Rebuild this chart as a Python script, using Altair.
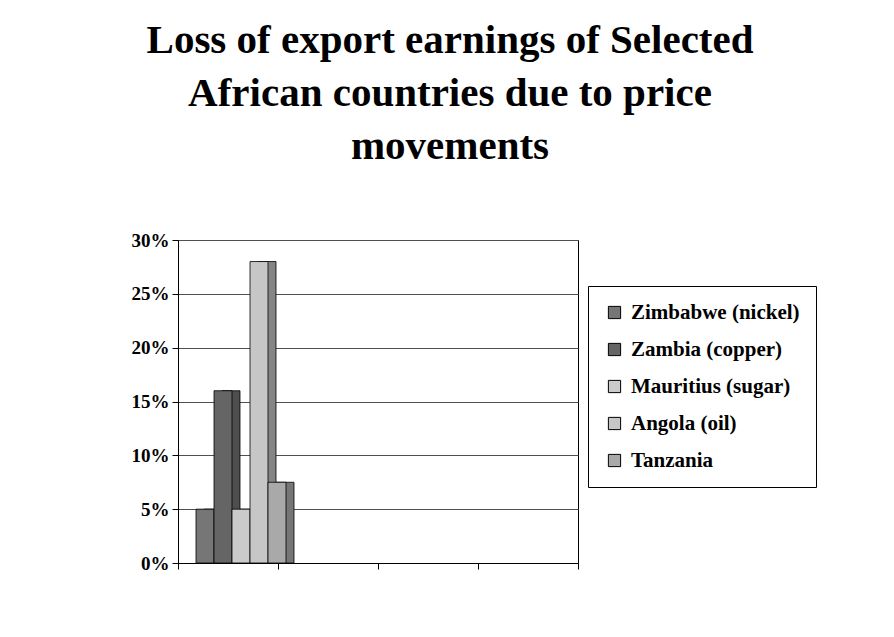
import altair as alt
import pandas as pd

categories = ["1", "2", "3", "4"]
series = ["Zimbabwe (nickel)", "Zambia (copper)", "Mauritius (sugar)", "Angola (oil)", "Tanzania"]
values = [0.05, 0.16, 0.05, 0.28, 0.075]
front_colors = ["#767676", "#656565", "#cacaca", "#c6c6c6", "#a9a9a9"]
side_colors = ["#595959", "#4e4e4e", "#a2a2a2", "#858585", "#767676"]
y_ticks = [0, 0.05, 0.10, 0.15, 0.20, 0.25, 0.30]
title_lines = ["Loss of export earnings of Selected", "African countries due to price", "movements"]

df = pd.DataFrame({
    "cat": ["1"] * len(series),
    "series": series,
    "value": values,
    "side": side_colors,
})

FONT = "Liberation Serif"

x_enc = alt.X("cat:N", scale=alt.Scale(domain=categories, paddingInner=0, paddingOuter=0),
              axis=alt.Axis(labels=False, title=None, tickBand="extent", tickSize=6,
                            tickColor="black", domainColor="black", grid=False))
y_enc = alt.Y("value:Q", scale=alt.Scale(domain=[0, 0.30]),
              axis=alt.Axis(values=y_ticks, format=".0%", title=None, grid=True,
                            gridColor="#505050", gridWidth=1, tickColor="black",
                            domainColor="black", tickSize=6, labelFont=FONT,
                            labelFontSize=19, labelFontWeight="bold", labelColor="black",
                            labelPadding=3))

side = alt.Chart(df).mark_bar(stroke="black", strokeWidth=0.8).encode(
    x=x_enc,
    xOffset=alt.XOffset("series:N", sort=series,
                        scale=alt.Scale(domain=series, range=[26, 116])),
    y=y_enc,
    color=alt.Color("side:N", scale=None),
)

front = alt.Chart(df).mark_bar(stroke="black", strokeWidth=0.8).encode(
    x=x_enc,
    xOffset=alt.XOffset("series:N", sort=series,
                        scale=alt.Scale(domain=series, range=[18, 108])),
    y=y_enc,
    color=alt.Color("series:N", sort=series,
                    scale=alt.Scale(domain=series, range=front_colors),
                    legend=alt.Legend(title=None, orient="none", legendX=410, legendY=46,
                                      labelFont=FONT)),
)

chart = alt.layer(side, front).resolve_scale(color="independent", xOffset="independent").properties(
    width=400,
    height=323,
    title=alt.TitleParams(text=title_lines, font=FONT, fontSize=41, fontWeight="bold",
                          color="black", lineHeight=53, anchor="middle", offset=63, dx=72),
    padding={"left": 123, "top": 12, "right": 10, "bottom": 10},
    background="white",
).configure(font=FONT).configure_view(stroke="black", strokeWidth=1).configure_legend(
    padding=16, strokeColor="black", fillColor="white",
    labelFont=FONT, labelFontSize=21, labelFontWeight="bold",
    labelColor="black", symbolType="square", symbolSize=150,
    symbolStrokeColor="black", symbolStrokeWidth=1,
    rowPadding=15, labelLimit=400, labelOffset=6,
)

chart.save("out.html", embed_options={"renderer": "svg", "actions": False})
